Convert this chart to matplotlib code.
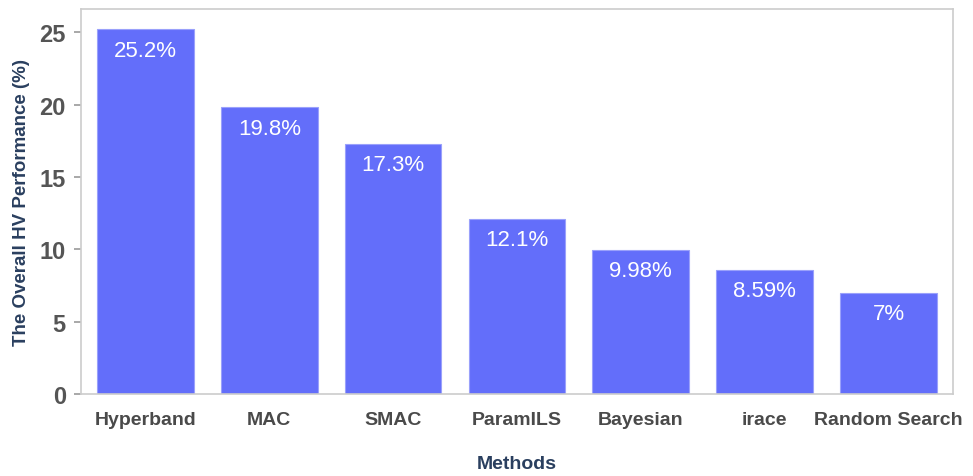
import numpy as np
import matplotlib.pyplot as plt

methods = ['Hyperband', 'MAC', 'SMAC', 'ParamILS', 'Bayesian', 'irace', 'Random Search']
hv_perf = [25.2, 19.8, 17.3, 12.1, 9.98, 8.59, 7.0]
hv_labels = ['25.2%', '19.8%', '17.3%', '12.1%', '9.98%', '8.59%', '7%']
yticks = [0, 5, 10, 15, 20, 25]

plt.rcParams['font.family'] = ['Liberation Sans', 'DejaVu Sans']

fig = plt.figure(figsize=(9.73, 4.77), dpi=100)
ax = fig.add_axes([0.0833, 0.172, 0.896, 0.807])

x = np.arange(len(methods))
bars = ax.bar(x, hv_perf, width=0.78, color='#636efa', edgecolor='#9aa1fb', linewidth=0.8, zorder=2)

# value labels sit just inside the top of each bar
for xi, v, lab in zip(x, hv_perf, hv_labels):
    ax.annotate(lab, (xi, v), xytext=(0, -15), textcoords='offset points',
                ha='center', va='center', color='white', fontsize=16)

ax.set_xlim(-0.52, 6.52)
ax.set_ylim(0, 26.6)
ax.set_yticks(yticks)
ax.set_xticks(x)
ax.set_xticklabels(methods, fontsize=14, color='#4a4a4a', fontweight='bold')
ax.set_yticklabels([str(t) for t in yticks], fontsize=17, color='#555555', fontweight='bold')

ax.tick_params(axis='x', direction='in', length=7, width=1.5, color='#555555', pad=12)
ax.tick_params(axis='y', direction='out', length=5, width=1.2, color='#999999', pad=6)

for s in ax.spines.values():
    s.set_color('#cccccc')
    s.set_linewidth(1.2)

ax.set_xlabel('Methods', fontsize=14, color='#2a3f5f', fontweight='bold', labelpad=20)
ax.set_ylabel('The Overall HV Performance (%)', fontsize=13.5, color='#2a3f5f', fontweight='bold', labelpad=7)

fig.savefig('out.png', dpi=100)
